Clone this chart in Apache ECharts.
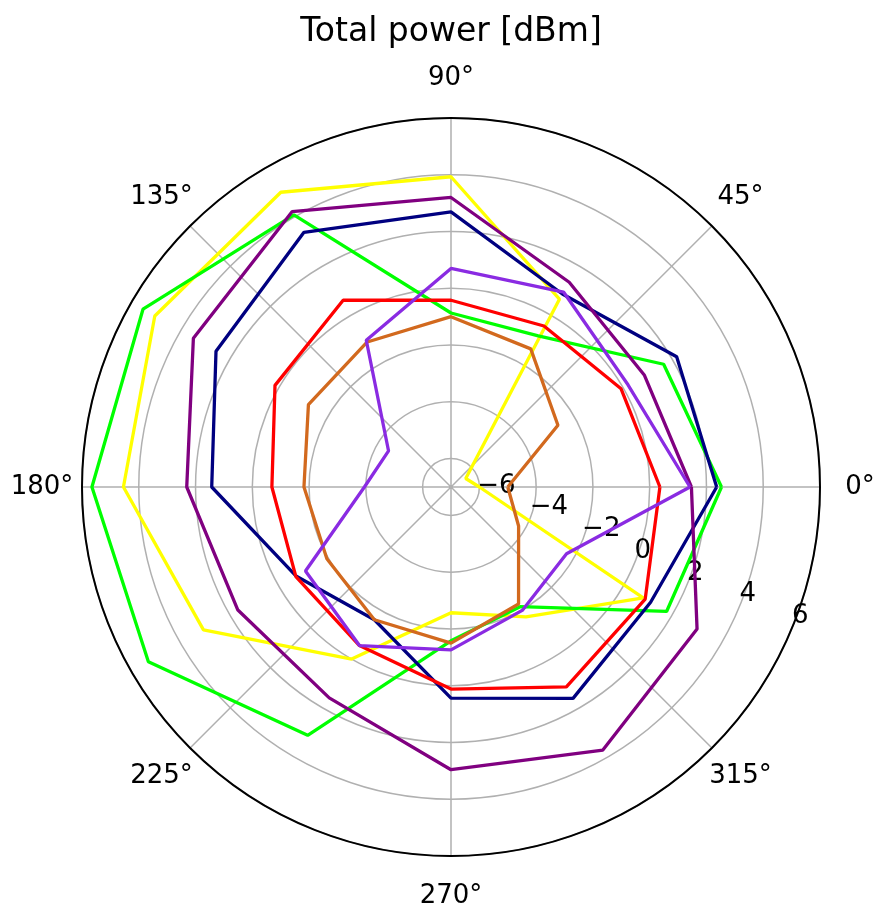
<!DOCTYPE html>
<html>
<head>
<meta charset="utf-8">
<script src="https://cdn.jsdelivr.net/npm/echarts@6/dist/echarts.min.js"></script>
<style>
  html, body { margin: 0; padding: 0; background: #fff; }
  #chart { width: 875px; height: 909px; }
</style>
</head>
<body>
<div id="chart"></div>
<script>
// Angles (degrees) at which each series is sampled
const angles = [0, 30, 60, 90, 120, 150, 180, 210, 240, 270, 300, 330];

// Total power [dBm] per series
const yellowVals     = [-6.0, -6.4, 0.64, 3.93, 4.99, 5.05, 4.54, 3.07, 0.0, -2.57, -1.72, 0.82];
const limeVals       = [2.53, 1.65, -0.85, -0.87, 4.07, 5.53, 5.65, 5.31, 3.1, -1.58, -2.13, 1.77];
const navyVals       = [2.36, 2.18, 0.85, 2.69, 3.36, 2.56, 1.43, -0.71, -1.6, 0.44, 1.6, 1.12];
const purpleVals     = [1.47, 0.87, 1.33, 3.2, 4.2, 3.48, 2.31, 1.67, 1.58, 2.96, 3.7, 3.01];
const redVals        = [0.36, -0.08, -0.45, -0.42, 0.6, 0.16, -0.69, -0.69, -0.55, 0.12, 1.13, 0.9];
const chocolateVals  = [-5.0, -2.65, -1.38, -1.0, -1.1, -1.2, -1.82, -1.95, -1.6, -1.5, -2.24, -4.25];
const blueVioletVals = [1.42, 0.2, 0.93, 0.7, -1.03, -4.46, -3.95, -1.08, -0.55, -1.26, -1.98, -2.3];

// Radial tick labels
const radialTicks = [-6, -4, -2, 0, 2, 4, 6];
// Angular tick labels
const angleTicks = [0, 45, 90, 135, 180, 225, 270, 315];

const seriesDefs = [
  { name: 'yellow', color: '#ffff00', values: yellowVals },
  { name: 'lime', color: '#00ff00', values: limeVals },
  { name: 'navy', color: '#000080', values: navyVals },
  { name: 'purple', color: '#800080', values: purpleVals },
  { name: 'red', color: '#ff0000', values: redVals },
  { name: 'chocolate', color: '#d2691e', values: chocolateVals },
  { name: 'blueviolet', color: '#8a2be2', values: blueVioletVals }
];

function closedData(vals) {
  const d = angles.map((a, i) => [vals[i], a]);
  d.push([vals[0], angles[0]]);
  return d;
}

const FONT = 'DejaVu Sans';
const chart = echarts.init(document.getElementById('chart'), null, { renderer: 'canvas' });

chart.setOption({
  animation: false,
  backgroundColor: '#ffffff',
  title: {
    text: 'Total power [dBm]',
    left: 446,
    top: 11,
    textAlign: 'center',
    textStyle: { fontFamily: FONT, fontSize: 33, fontWeight: 'normal', color: '#000' }
  },
  polar: { center: [451, 487], radius: 369 },
  angleAxis: {
    type: 'value',
    min: -22.5,
    max: 337.5,
    interval: 22.5,
    startAngle: -22.5,
    clockwise: false,
    axisLine: { show: true, lineStyle: { color: '#000', width: 2 } },
    axisTick: { show: false },
    axisLabel: {
      formatter: v => angleTicks.indexOf(Math.round(v * 10) / 10) >= 0 ? '{c|' + v + '°}' : '',
      margin: 39,
      rich: {
        c: {
          width: 2, height: 2, lineHeight: 2,
          align: 'center', verticalAlign: 'middle',
          fontFamily: FONT, fontSize: 26, color: '#000'
        }
      },
      fontFamily: FONT,
      fontSize: 26,
      color: '#000'
    },
    splitLine: { show: true, lineStyle: { color: ['rgba(0,0,0,0)', '#b0b0b0'], width: 1.5 } }
  },
  radiusAxis: {
    type: 'value',
    min: -7,
    max: 6,
    interval: 1,
    axisLine: { show: false },
    axisTick: { show: false },
    axisLabel: {
      formatter: v => radialTicks.indexOf(v) >= 0 ? String(v).replace('-', '\u2212') : '',
      margin: 13,
      padding: [0, 0, 0, -5],
      fontFamily: FONT,
      fontSize: 26,
      color: '#000'
    },
    splitLine: { show: true, lineStyle: { color: ['rgba(0,0,0,0)', '#b0b0b0'], width: 1.5 } }
  },
  series: seriesDefs.map(s => ({
    type: 'line',
    name: s.name,
    coordinateSystem: 'polar',
    data: closedData(s.values),
    symbol: 'none',
    smooth: false,
    lineStyle: { color: s.color, width: 3.3 },
    itemStyle: { color: s.color }
  }))
});
</script>
</body>
</html>
